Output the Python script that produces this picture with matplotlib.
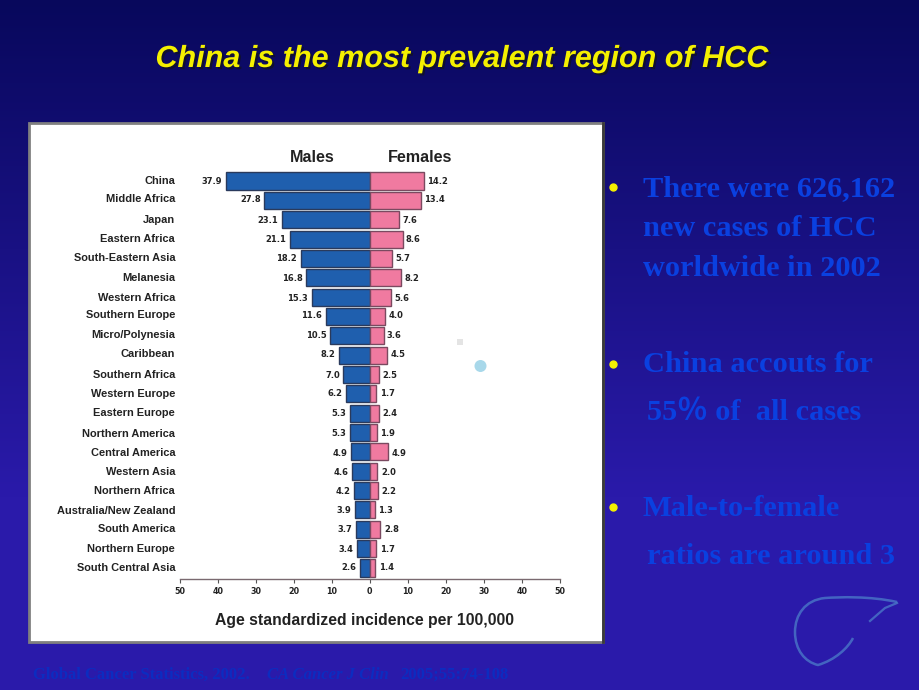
"""Slide: China is the most prevalent region of HCC, butterfly bar chart on a blue background."""
import numpy as np
import matplotlib
matplotlib.use("Agg")
import matplotlib.pyplot as plt
import matplotlib.patheffects as pe
from matplotlib.patches import Rectangle, Circle, PathPatch
from matplotlib.path import Path

W, H = 920, 690
BLUE_TXT, YELLOW = "#0a40e0", "#f4f000"
MALE, FEMALE = "#1f5fae", "#f07aa0"
INK = "#222222"

regions = ["China", "Middle Africa", "Japan", "Eastern Africa", "South-Eastern Asia",
           "Melanesia", "Western Africa", "Southern Europe", "Micro/Polynesia", "Caribbean",
           "Southern Africa", "Western Europe", "Eastern Europe", "Northern America",
           "Central America", "Western Asia", "Northern Africa", "Australia/New Zealand",
           "South America", "Northern Europe", "South Central Asia"]
males = [37.9, 27.8, 23.1, 21.1, 18.2, 16.8, 15.3, 11.6, 10.5, 8.2, 7.0,
         6.2, 5.3, 5.3, 4.9, 4.6, 4.2, 3.9, 3.7, 3.4, 2.6]
females = [14.2, 13.4, 7.6, 8.6, 5.7, 8.2, 5.6, 4.0, 3.6, 4.5, 2.5,
           1.7, 2.4, 1.9, 4.9, 2.0, 2.2, 1.3, 2.8, 1.7, 1.4]
ticks = [-50, -40, -30, -20, -10, 0, 10, 20, 30, 40, 50]
# the scanned labels do not sit quite on their rows (in pixels, + is down)
label_nudge = [0, -1.3, 0.3, 0, -0.4, 0.3, 0.9, -1.4, -0.8, -1.1, 0.5,
               0, 0, 1.4, 1.1, 0.8, 0.4, 1, -0.3, 0.4, 0]

fig = plt.figure(figsize=(W / 100, H / 100), dpi=100)

# slide layer works in pixel coordinates of the reference
bg = fig.add_axes([0, 0, 1, 1])
bg.set_xlim(0, W); bg.set_ylim(H, 0); bg.axis("off")
top, bottom = np.array([8, 8, 92]), np.array([42, 26, 170])
t = np.clip(np.linspace(0, 1, H) / 0.72, 0, 1)[:, None, None]
grad = (top + (bottom - top) * t) / 255
bg.imshow(np.repeat(grad, 2, axis=1), extent=[0, W, H, 0], aspect="auto", zorder=0)

bg.text(461.5, 59, "China is the most prevalent region of HCC", color=YELLOW, ha="center", va="center",
        fontsize=22, fontweight="bold", style="italic", family="Liberation Sans",
        path_effects=[pe.withSimplePatchShadow(offset=(1.5, -1.5), shadow_rgbFace="#101030", alpha=1)])

# white panel
bg.add_patch(Rectangle((29, 123), 574, 519, fc="white", ec="#808080", lw=2, zorder=1))
bg.plot([603, 603], [123, 642], color="#3a3a3a", lw=2, zorder=2)
bg.add_patch(Rectangle((457, 339), 6, 6, fc="#e4e4e4", ec="none", zorder=4))
bg.add_patch(Circle((480.5, 366), 6, fc="#a8d8ea", ec="none", zorder=4))

# bullets
for x, y, s in [(643, 189, "There were 626,162"), (643, 229, "new cases of HCC"),
                (643, 269, "worldwide in 2002"), (643, 365, "China accouts for"),
                (647, 413, "55％ of  all cases"), (643, 509, "Male-to-female"),
                (647, 556, "ratios are around 3")]:
    bg.text(x, y, s, color=BLUE_TXT, fontsize=21.9, fontweight="bold", va="center",
            family=["Liberation Serif", "Noto Sans CJK SC"])
for y in [187, 364, 507]:
    bg.plot(613, y, "o", color=YELLOW, ms=5, zorder=3)

# citation
cite_kw = dict(color="#0c2cc0", fontsize=12, fontweight="bold", va="center", family="Liberation Serif")
bg.text(33, 675, "Global Cancer Statistics, 2002.", **cite_kw)
bg.text(267, 675, "CA Cancer J Clin", style="italic", **cite_kw)
bg.text(400, 675, "2005;55:74-108", **cite_kw)

# liver outline
liver = Path([(897, 602), (870, 596), (840, 597), (825, 598), (805, 600), (795, 615), (795, 632),
              (795, 650), (805, 662), (818, 665), (835, 660), (848, 648), (853, 638)],
             [Path.MOVETO] + [Path.CURVE4] * 12)
bg.add_patch(PathPatch(liver, fc="none", ec="#4a78c8", lw=1.8, alpha=0.8, zorder=2))
bg.plot([897, 885, 870], [603, 608, 621], color="#4a78c8", lw=1.6, alpha=0.8, zorder=2)
bg.set_xlim(0, W); bg.set_ylim(H, 0)

# chart axes, placed so that the x range and the rows sit where the reference has them
left, right, ax_top, ax_bot = 179.7, 560, 166, 579
ax = fig.add_axes([left / W, 1 - ax_bot / H, (right - left) / W, (ax_bot - ax_top) / H])
ax.patch.set_alpha(0)
row = 19.35
y = np.arange(len(regions))
ax.set_xlim(-50, 50)
ax.set_ylim((ax_bot - 181) / row, (ax_top - 181) / row)

ax.barh(y, [-m for m in males], height=0.88, color=MALE, edgecolor="#2a3a5c", lw=1)
ax.barh(y, females, height=0.88, color=FEMALE, edgecolor="#7a4a60", lw=1)

for yi, name, m, f, dy in zip(y, regions, males, females, label_nudge):
    yl = yi + dy / row
    ax.text(-m - 0.9, yl, f"{m:.1f}", ha="right", va="center", fontsize=6, fontweight="bold", color=INK)
    ax.text(f + 0.9, yl, f"{f:.1f}", ha="left", va="center", fontsize=6, fontweight="bold", color=INK)
    ax.text(-51.2, yl, name, ha="right", va="center", fontsize=7.9, fontweight="bold", color=INK,
            family="Liberation Sans")

ax.text(-15.2, -1.19, "Males", ha="center", va="center", fontsize=11.6, fontweight="bold", color=INK,
        family="Liberation Sans")
ax.text(13.2, -1.19, "Females", ha="center", va="center", fontsize=11.6, fontweight="bold", color=INK,
        family="Liberation Sans")
ax.text(-1.5, 22.7, "Age standardized incidence per 100,000", ha="center", va="center",
        fontsize=11.3, fontweight="bold", color=INK, family="Liberation Sans", clip_on=False)

ax.set_xticks(ticks)
ax.set_xticklabels([str(abs(v)) for v in ticks], fontsize=5.8, fontweight="bold", color=INK)
ax.set_yticks([])
ax.tick_params(axis="x", length=3, width=0.8, color="#555555", pad=3)
for name, sp in ax.spines.items():
    sp.set_visible(name == "bottom")
ax.spines["bottom"].set_color("#7a6a70")
ax.spines["bottom"].set_linewidth(1)

fig.savefig("out.png", dpi=100, facecolor=(top / 255))
